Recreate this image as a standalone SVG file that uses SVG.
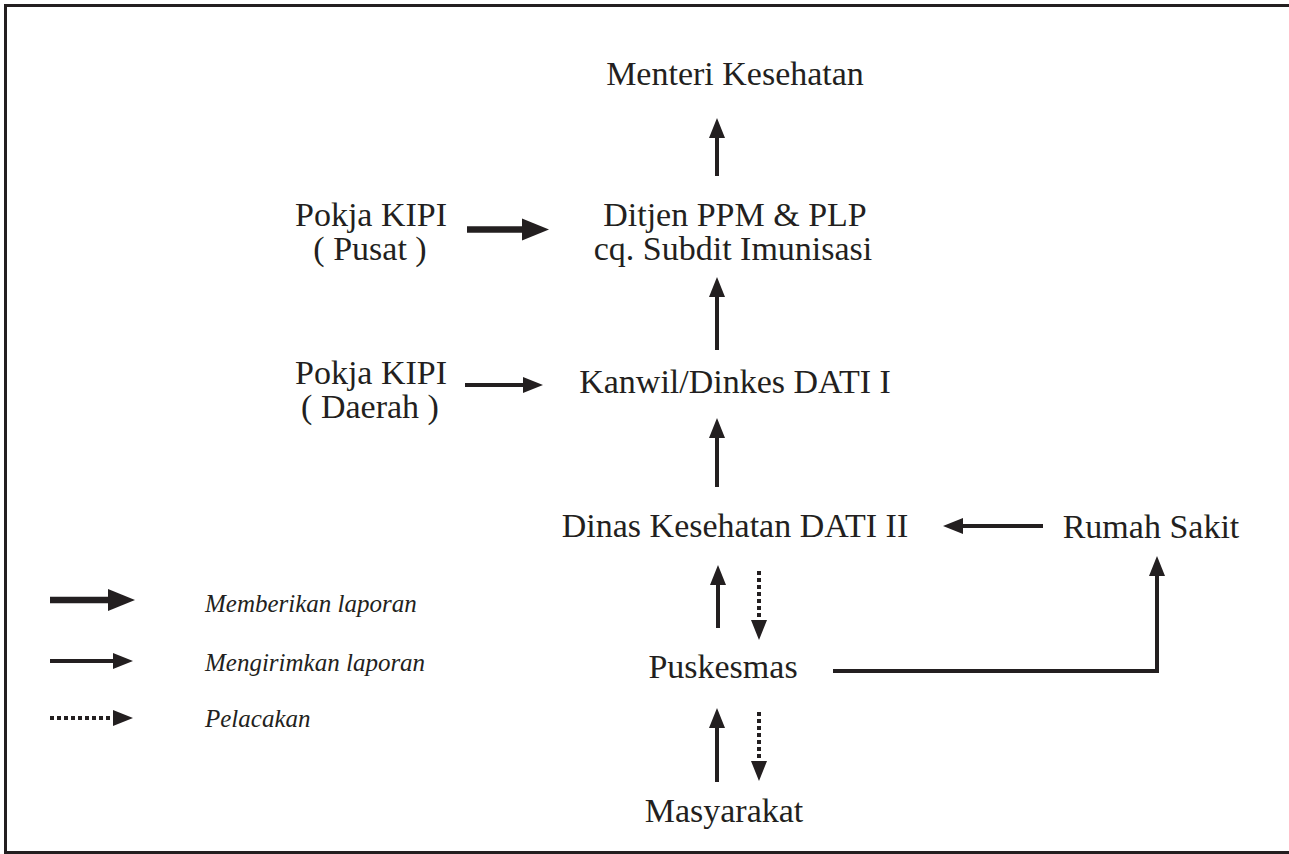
<svg xmlns="http://www.w3.org/2000/svg" width="1289" height="854" viewBox="0 0 1289 854">
<defs>
<style>
.t{font-family:"Liberation Serif","Times New Roman",serif;font-size:34px;fill:#231f20;text-anchor:middle}
.it{font-family:"Liberation Serif","Times New Roman",serif;font-size:25px;font-style:italic;fill:#231f20}
.thick{stroke:#231f20;stroke-width:6.5;fill:none}
.med{stroke:#231f20;stroke-width:4;fill:none}
.dot{stroke:#231f20;stroke-width:4;fill:none;stroke-dasharray:4 3}
</style>
<marker id="hBig" markerUnits="userSpaceOnUse" markerWidth="28" markerHeight="24" viewBox="0 0 28 24" refX="0" refY="12" orient="auto">
<path d="M0,1 L27,12 L0,23 Z" fill="#231f20"/>
</marker>
<marker id="hMed" markerUnits="userSpaceOnUse" markerWidth="21" markerHeight="18" viewBox="0 0 21 18" refX="0" refY="9" orient="auto">
<path d="M0,1 L20,9 L0,17 Z" fill="#231f20"/>
</marker>
</defs>
<rect width="1289" height="854" fill="#fff"/>
<g id="border" stroke="#231f20" stroke-width="3" fill="none">
<path d="M1289,5.5 L5.5,5.5 L5.5,852.5 L1289,852.5"/>
</g>
<g id="n-menteri"><text class="t" x="735" y="85">Menteri Kesehatan</text></g>
<g id="n-ditjen"><text class="t" x="735" y="226">Ditjen PPM &amp; PLP</text><text class="t" x="733" y="260">cq. Subdit Imunisasi</text></g>
<g id="n-pokja-pusat"><text class="t" x="371" y="226">Pokja KIPI</text><text class="t" x="370" y="260">( Pusat )</text></g>
<g id="n-kanwil"><text class="t" x="735" y="393">Kanwil/Dinkes DATI I</text></g>
<g id="n-pokja-daerah"><text class="t" x="371" y="384">Pokja KIPI</text><text class="t" x="370" y="418">( Daerah )</text></g>
<g id="n-dinas"><text class="t" x="735" y="537">Dinas Kesehatan DATI II</text></g>
<g id="n-rs"><text class="t" x="1151" y="538">Rumah Sakit</text></g>
<g id="n-puskesmas"><text class="t" x="723" y="678">Puskesmas</text></g>
<g id="n-masyarakat"><text class="t" x="724" y="822">Masyarakat</text></g>
<g id="connectors">
<line class="med" x1="717" y1="176" x2="717" y2="138" marker-end="url(#hMed)"/>
<line class="thick" x1="467" y1="229.5" x2="522" y2="229.5" marker-end="url(#hBig)"/>
<line class="med" x1="717" y1="350" x2="717" y2="297" marker-end="url(#hMed)"/>
<line class="med" x1="465" y1="385" x2="523" y2="385" marker-end="url(#hMed)"/>
<line class="med" x1="717" y1="487" x2="717" y2="438" marker-end="url(#hMed)"/>
<line class="med" x1="1043" y1="526" x2="963" y2="526" marker-end="url(#hMed)"/>
<path class="med" d="M833,671 L1157,671 L1157,576" marker-end="url(#hMed)"/>
<line class="med" x1="718" y1="628" x2="718" y2="585" marker-end="url(#hMed)"/>
<line class="dot" x1="759" y1="571" x2="759" y2="620" marker-end="url(#hMed)"/>
<line class="med" x1="717" y1="782" x2="717" y2="728" marker-end="url(#hMed)"/>
<line class="dot" x1="759" y1="712" x2="759" y2="761" marker-end="url(#hMed)"/>
</g>
<g id="legend">
<line class="thick" x1="50" y1="600" x2="108" y2="600" marker-end="url(#hBig)"/>
<text class="it" x="205" y="612">Memberikan laporan</text>
<line class="med" x1="50" y1="661" x2="113" y2="661" marker-end="url(#hMed)"/>
<text class="it" x="205" y="671">Mengirimkan laporan</text>
<line class="dot" x1="50" y1="718" x2="113" y2="718" marker-end="url(#hMed)"/>
<text class="it" x="205" y="727">Pelacakan</text>
</g>
</svg>
